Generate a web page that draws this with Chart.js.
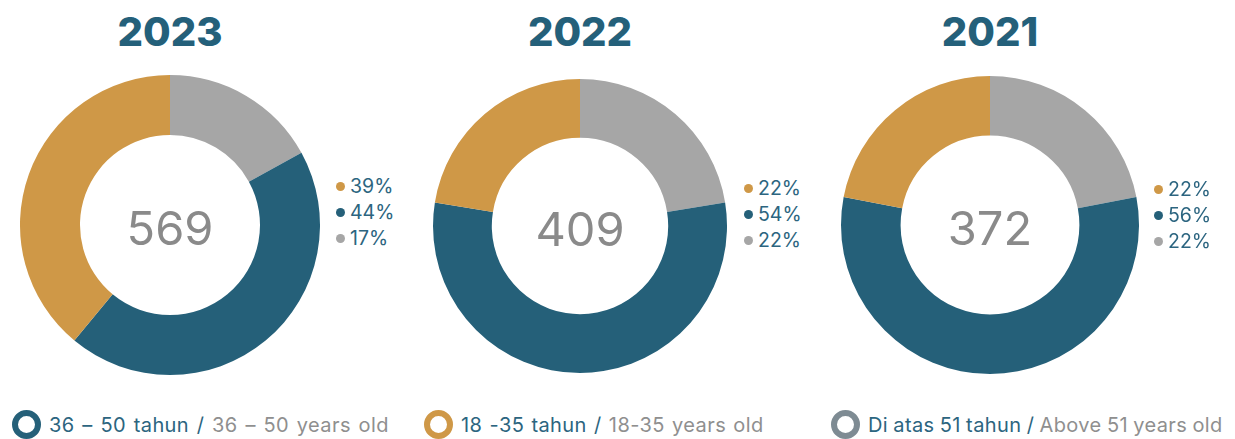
<!DOCTYPE html>
<html>
<head>
<meta charset="utf-8">
<script src="https://cdn.jsdelivr.net/npm/chart.js@4"></script>
<style>
  body { margin: 0; width: 1235px; height: 439px; background: #fff; position: relative; overflow: hidden; font-family: Inter, "Noto Sans", sans-serif; }
  .title { position: absolute; top: 7px; width: 300px; text-align: center; font-size: 40px; font-weight: 800; color: #24607a; }
  .wrap { position: absolute; }
  .total { position: absolute; width: 200px; text-align: center; font-size: 47px; font-weight: 400; color: #8a8a8a; }
  .side { position: absolute; font-size: 19.5px; color: #2c6580; line-height: 26px; }
  .side span.dot { display: inline-block; width: 9px; height: 9px; border-radius: 50%; margin-right: 5px; vertical-align: 2px; }
  .legend { position: absolute; top: 410px; font-size: 20px; color: #2c6580; white-space: nowrap; letter-spacing: 0.4px; }
  .legend .ring { display: inline-block; width: 17px; height: 17px; border-radius: 50%; border: 6px solid; vertical-align: -7px; margin-right: 8px; }
  .legend .en { color: #8f8f8f; }
</style>
</head>
<body>
<div id="root"></div>
<script>
const years = ["2023", "2022", "2021"];
const totals = [569, 409, 372];
// slice order: clockwise from the top
const categories = ["Di atas 51 tahun", "36 – 50 tahun", "18 -35 tahun"];
const values2023 = [17, 44, 39];
const values2022 = [22, 54, 22];
const values2021 = [22, 56, 22];
const sliceColors = ["#a6a6a6", "#256079", "#cf9847"];

const legendLabels = [
  ["36 – 50 tahun", "36 – 50 years old", "#256079"],
  ["18 -35 tahun", "18-35 years old", "#cf9847"],
  ["Di atas 51 tahun", "Above 51 years old", "#7e8b93"]
];

const allValues = [values2023, values2022, values2021];
const boxes = [
  { left: 20, top: 75, size: 300, side: 336, sideTop: 173 },
  { left: 433, top: 79, size: 294, side: 744, sideTop: 175 },
  { left: 841, top: 76, size: 298, side: 1154, sideTop: 176 }
];
const legendX = [12, 424, 831];
const legendGap = [1.7, 1.2, -0.8];

let root = document.getElementById("root");

years.forEach((year, i) => {
  let b = boxes[i];
  let cx = b.left + b.size / 2;

  let t = document.createElement("div");
  t.className = "title";
  t.style.left = (cx - 150) + "px";
  t.innerText = year;
  root.appendChild(t);

  let w = document.createElement("div");
  w.className = "wrap";
  w.style.left = b.left + "px";
  w.style.top = b.top + "px";
  w.style.width = b.size + "px";
  w.style.height = b.size + "px";
  let c = document.createElement("canvas");
  w.appendChild(c);
  root.appendChild(w);

  let n = document.createElement("div");
  n.className = "total";
  n.style.left = (cx - 100) + "px";
  n.style.top = (b.top + b.size / 2 - 26) + "px";
  n.innerText = totals[i];
  root.appendChild(n);

  // side list: 18-35, 36-50, above 51
  let vals = allValues[i];
  let s = document.createElement("div");
  s.className = "side";
  s.style.left = b.side + "px";
  s.style.top = b.sideTop + "px";
  s.innerHTML = [2, 1, 0].map(k =>
    `<div><span class="dot" style="background:${sliceColors[k]}"></span>${vals[k]}%</div>`
  ).join("");
  root.appendChild(s);

  new Chart(c, {
    type: "doughnut",
    data: {
      labels: categories,
      datasets: [{
        data: vals,
        backgroundColor: sliceColors,
        borderWidth: 0
      }]
    },
    options: {
      responsive: true,
      maintainAspectRatio: false,
      animation: false,
      cutout: "60%",
      plugins: { legend: { display: false }, tooltip: { enabled: false } }
    }
  });
});

legendLabels.forEach((l, i) => {
  let d = document.createElement("div");
  d.className = "legend";
  d.style.left = legendX[i] + "px";
  d.style.wordSpacing = legendGap[i] + "px";
  d.innerHTML = `<span class="ring" style="border-color:${l[2]}"></span>${l[0]} / <span class="en">${l[1]}</span>`;
  root.appendChild(d);
});
</script>
</body>
</html>
